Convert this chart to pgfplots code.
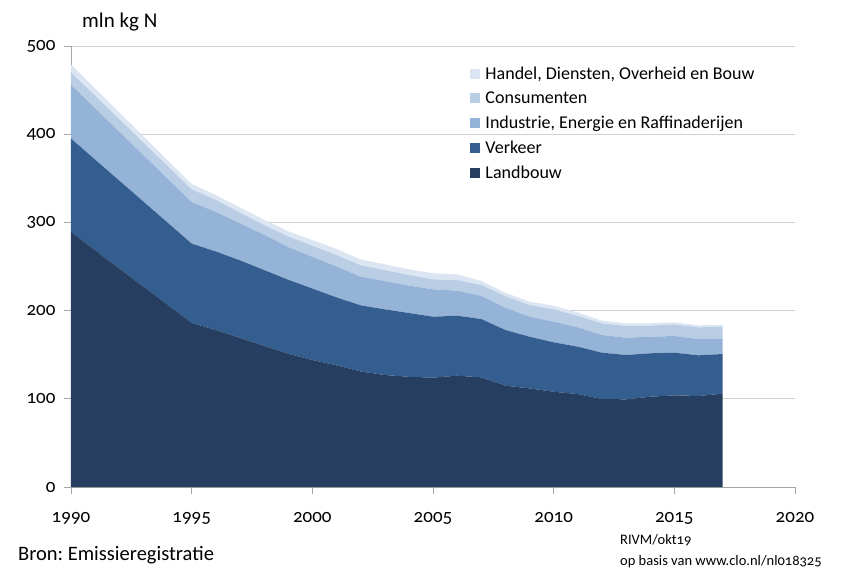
\documentclass[border=0pt]{standalone}
\usepackage{fontspec}
\setmainfont{Carlito}[Numbers=OldStyle]
\usepackage{pgfplots}
\pgfplotsset{compat=1.18}
\definecolor{cLand}{HTML}{263F60}
\definecolor{cVerk}{HTML}{345E8F}
\definecolor{cInd}{HTML}{95B3D7}
\definecolor{cCons}{HTML}{B9CDE5}
\definecolor{cHand}{HTML}{DCE6F2}
\definecolor{cGrid}{HTML}{D0D0D0}
\definecolor{cAx}{HTML}{A6A6A6}
\frenchspacing
\begin{document}
\begin{tikzpicture}
\path[use as bounding box] (-71pt,-84pt) rectangle (783pt,487pt);
\begin{axis}[
  scale only axis, width=724pt, height=441pt,
  anchor=south west, at={(0pt,0pt)},
  xmin=1990, xmax=2020, ymin=0, ymax=500,
  xtick={1990,1995,...,2020}, ytick={0,100,...,500},
  axis lines*=left,
  axis line style={cAx, line width=0.8pt},
  tick align=outside, major tick length=7pt,
  tick style={cAx, line width=0.8pt},
  ymajorgrids, grid style={cGrid, line width=0.8pt},
  /pgf/number format/assume math mode=true,
  /pgf/number format/1000 sep={},
  ticklabel style={font=\fontsize{19}{21}\selectfont, text=black},
  xticklabel style={yshift=-15pt},
  yticklabel style={xshift=-5pt},
  stack plots=y,
  legend style={draw=none, fill=none, at={(0.5515,0.958)}, anchor=north west,
    font=\fontsize{18}{21}\selectfont, row sep=7pt, column sep=3pt, inner sep=0pt},
  legend cell align=left,
  reverse legend,
  legend image code/.code={\fill[#1] (0pt,-5pt) rectangle (10pt,5pt);},
]
\addplot[fill=cLand, draw=none] coordinates {
(1990,289) (1995,186) (1996,178) (1997,169) (1998,160) (1999,151) (2000,144)
(2001,138) (2002,131) (2003,127) (2004,125) (2005,124) (2006,126.2) (2007,124.3)
(2008,114.9) (2009,111.8) (2010,108) (2011,105.4) (2012,99.8) (2013,99.4)
(2014,102.4) (2015,103.9) (2016,103.2) (2017,105.8)} \closedcycle;
\addlegendentry{Landbouw}
\addplot[fill=cVerk, draw=none] coordinates {
(1990,106) (1995,90) (1996,89) (1997,88) (1998,86) (1999,84) (2000,81)
(2001,77) (2002,75) (2003,74.4) (2004,72.3) (2005,69.1) (2006,68) (2007,66.2)
(2008,63.1) (2009,58.6) (2010,56) (2011,53.7) (2012,52.5) (2013,50.3)
(2014,49.2) (2015,48.4) (2016,46.1) (2017,45)} \closedcycle;
\addlegendentry{Verkeer}
\addplot[fill=cInd, draw=none] coordinates {
(1990,61) (1995,47) (1996,45) (1997,42) (1998,40) (1999,37) (2000,36)
(2001,35) (2002,32.5) (2003,32.2) (2004,31) (2005,31) (2006,28.4) (2007,26.1)
(2008,25.3) (2009,22.7) (2010,23.4) (2011,21.9) (2012,20) (2013,19.6)
(2014,18.8) (2015,18.9) (2016,18.5) (2017,17.4)} \closedcycle;
\addlegendentry{Industrie, Energie en Raffinaderijen}
\addplot[fill=cCons, draw=none] coordinates {
(1990,14) (1995,14.5) (1996,13.5) (1997,12) (1998,11) (1999,12) (2000,12.5)
(2001,13) (2002,13) (2003,12.4) (2004,12.1) (2005,11.3) (2006,12.1) (2007,12.4)
(2008,13) (2009,13.2) (2010,14) (2011,13) (2012,13.3) (2013,13.2)
(2014,12.5) (2015,13.2) (2016,13.2) (2017,13.6)} \closedcycle;
\addlegendentry{Consumenten}
\addplot[fill=cHand, draw=none] coordinates {
(1990,9) (1995,6) (1996,5.5) (1997,6) (1998,6) (1999,6) (2000,6.5)
(2001,7) (2002,6.5) (2003,6.5) (2004,6.4) (2005,6.9) (2006,6.4) (2007,4.6)
(2008,4) (2009,3.8) (2010,4.2) (2011,3.8) (2012,3) (2013,3.1)
(2014,2.7) (2015,2.3) (2016,2.3) (2017,2)} \closedcycle;
\addlegendentry{Handel, Diensten, Overheid en Bouw}
\end{axis}
\node[anchor=west, font=\fontsize{21}{24}\selectfont, inner sep=0pt] at (11pt,465pt) {mln kg N};
\node[anchor=west, font=\fontsize{20.5}{24}\selectfont, inner sep=0pt] at (-53pt,-68pt) {Bron: Emissieregistratie};
\node[anchor=west, font=\fontsize{14.5}{17}\selectfont, inner sep=0pt] at (549pt,-53pt) {RIVM/okt19};
\node[anchor=west, font=\fontsize{14.5}{17}\selectfont, inner sep=0pt] at (549pt,-75pt) {op basis van www.clo.nl/nl018325};
\end{tikzpicture}
\end{document}
